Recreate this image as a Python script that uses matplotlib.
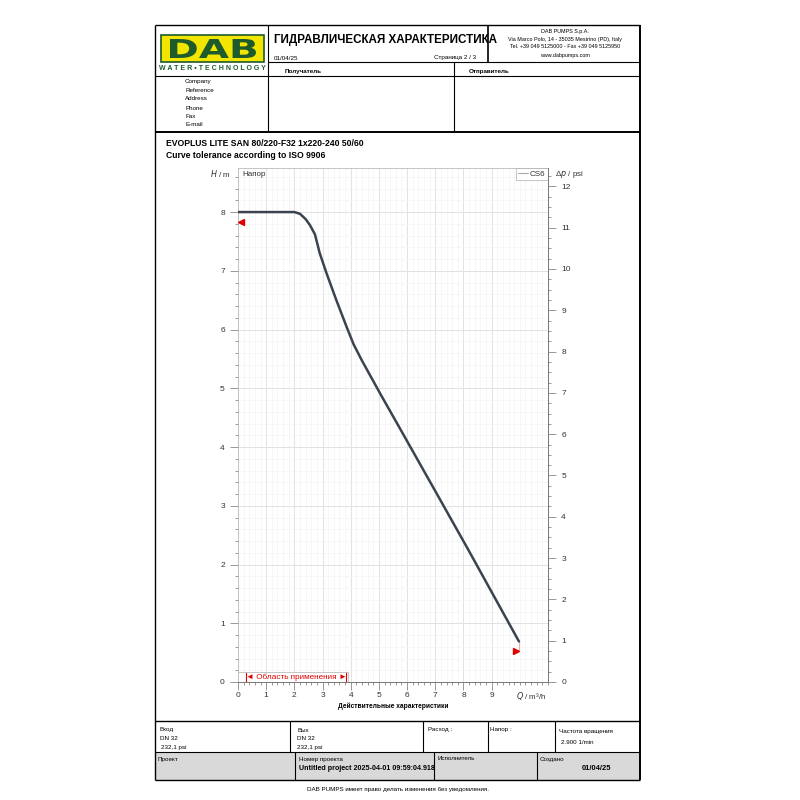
import matplotlib
matplotlib.use("Agg")
import matplotlib.pyplot as plt
from matplotlib.patches import Rectangle, PathPatch
from matplotlib.textpath import TextPath
from matplotlib.font_manager import FontProperties
from matplotlib.transforms import Affine2D
from matplotlib.ticker import MultipleLocator

plt.rcParams['font.family'] = ['Liberation Sans', 'DejaVu Sans']

# ---- data ----
flow_q = [0, 1.0, 2.0, 2.2, 2.4, 2.55, 2.73, 2.9, 3.14, 3.49, 3.85, 4.1, 4.4,
          5.08, 5.73, 7.0, 8.15, 9.97]
head_h = [8.0, 8.0, 8.0, 7.97, 7.88, 7.78, 7.62, 7.3, 6.96, 6.5, 6.05, 5.75, 5.47,
          4.88, 4.33, 3.25, 2.27, 0.69]
series_name = "CS6"
x_ticks = [0, 1, 2, 3, 4, 5, 6, 7, 8, 9]
h_ticks = [0, 1, 2, 3, 4, 5, 6, 7, 8]
psi_ticks = [0, 1, 2, 3, 4, 5, 6, 7, 8, 9, 10, 11, 12]
tol_left = (0.1, 7.83)
tol_right = (9.85, 0.52)
range_q = (0.3, 3.82)
M_PER_PSI = 0.70307

fig = plt.figure(figsize=(8, 8), dpi=100)

# page layer in pixel coords
pg = fig.add_axes([0, 0, 1, 1], zorder=0)
pg.set_xlim(0, 800)
pg.set_ylim(800, 0)
pg.axis('off')

K = 'black'
def L(x0, y0, x1, y1, lw=0.8, c=K):
    pg.plot([x0, x1], [y0, y1], color=c, lw=lw, solid_capstyle='butt')

# gray bottom row fill
pg.add_patch(Rectangle((155, 752), 485, 28, facecolor='#d9d9d9', edgecolor='none'))

# outer frame
L(155, 25, 640, 25, 1.0); L(155, 780, 640, 780, 1.0)
L(155, 25, 155, 780, 1.0); L(640, 25, 640, 780, 1.4)
# header lines
L(268, 25, 268, 132)
L(488, 25, 488, 62, 1.2)
L(268, 62, 640, 62)
L(155, 75.5, 640, 75.5)
L(454, 62, 454, 132)
L(155, 132, 640, 132, 1.4)
# bottom blocks
L(155, 721, 640, 721, 1.0)
L(155, 752, 640, 752)
for xv in [290, 423, 488, 555]:
    L(xv, 721, xv, 752)
for xv in [295, 434, 537]:
    L(xv, 752, xv, 780)

# logo
pg.add_patch(Rectangle((161, 35), 103, 27, facecolor='#f2e600', edgecolor='#1d5a2c', lw=1.2))
tp = TextPath((0, 0), "DAB", prop=FontProperties(family='DejaVu Sans', weight='bold'))
ext = tp.get_extents()
sx = 86 / ext.width
sy = 19 / ext.height
tr = Affine2D().translate(-ext.x0, -ext.y0).scale(sx, -sy).translate(170, 58) + pg.transData
pg.add_patch(PathPatch(tp, facecolor='#1d5a2c', edgecolor='none', transform=tr))
pg.text(212.5, 68.5, "W A T E R • T E C H N O L O G Y", ha='center', va='center',
        fontsize=5.0, color='#1d5a2c', weight='bold')

pg.text(274, 40, "ГИДРАВЛИЧЕСКАЯ ХАРАКТЕРИСТИКА", ha='left', va='center',
        fontsize=8.4, weight='bold')
pg.text(274, 58, "01/04/25", fontsize=4.5, va='center')
pg.text(476, 58, "Страница 2 / 3", fontsize=4.5, va='center', ha='right')
for yy, t in zip([31, 39, 47, 55], ["DAB PUMPS S.p.A.",
                                     "Via Marco Polo, 14 - 35035 Mestrino (PD), Italy",
                                     "Tel. +39 049 5125000 - Fax +39 049 5125950",
                                     "www.dabpumps.com"]):
    pg.text(565, yy, t, fontsize=3.9, ha='center', va='center')
pg.text(285, 71, "Получатель", fontsize=4.5, weight='bold', va='center')
pg.text(469, 71, "Отправитель", fontsize=4.5, weight='bold', va='center')
for yy, t in zip([82, 90.5, 99, 108, 116, 124],
                 ["Company", "Reference", "Address", "Phone", "Fax", "E-mail"]):
    pg.text(185, yy, t, fontsize=4.5, va='center')

pg.text(166, 143, "EVOPLUS LITE SAN 80/220-F32 1x220-240 50/60", fontsize=6.2,
        weight='bold', va='center')
pg.text(166, 155, "Curve tolerance according to ISO 9906", fontsize=6.2,
        weight='bold', va='center')

# bottom texts
fs = 4.5
pg.text(159, 730, "Вход", fontsize=fs, va='center')
pg.text(160, 739, "DN 32", fontsize=fs, va='center')
pg.text(161, 748, "232,1 psi", fontsize=fs, va='center')
pg.text(297, 730, "Вых", fontsize=fs, va='center')
pg.text(297, 739, "DN 32", fontsize=fs, va='center')
pg.text(297, 748, "232,1 psi", fontsize=fs, va='center')
pg.text(428, 730, "Расход :", fontsize=fs, va='center')
pg.text(490, 730, "Напор :", fontsize=fs, va='center')
pg.text(559, 731, "Частота вращения", fontsize=fs, va='center')
pg.text(561, 743, "2.900 1/min", fontsize=fs, va='center')
pg.text(158, 759, "Проект", fontsize=fs, va='center')
pg.text(299, 759, "Номер проекта", fontsize=fs, va='center')
pg.text(299, 769, "Untitled project 2025-04-01 09:59:04.918", fontsize=5.1,
        weight='bold', va='center')
pg.text(437, 759, "Исполнитель", fontsize=fs, va='center')
pg.text(540, 759, "Создано", fontsize=fs, va='center')
pg.text(596, 769, "01/04/25", fontsize=5.4, weight='bold', va='center', ha='center')
pg.text(398, 789, "DAB PUMPS имеет право делать изменения без уведомления.",
        fontsize=4.5, ha='center', va='center')

# axis captions in page coords
pg.text(231, 173.5, "$H$ / m", fontsize=5.8, ha='right', va='center', color='#333333')
pg.text(555, 174, "Δ$p$ / psi", fontsize=5.8, ha='left', va='center', color='#333333')
pg.text(393, 706, "Действительные характеристики", fontsize=4.8, weight='bold',
        ha='center', va='center')

# ---- chart ----
ax = fig.add_axes([238 / 800, 1 - 682 / 800, 310 / 800, 514 / 800], zorder=2)
ymax = 8.75
ax.set_xlim(0, 11)
ax.set_ylim(0, ymax)
ax.set_xticks(x_ticks)
ax.set_yticks(h_ticks)
ax.xaxis.set_minor_locator(MultipleLocator(0.2))
ax.yaxis.set_minor_locator(MultipleLocator(0.2))
ax.grid(which='major', color='#e2e2e2', lw=0.7)
ax.grid(which='minor', color='#f4f4f4', lw=0.5)
ax.set_axisbelow(True)
ax.tick_params(which='both', direction='out', colors='#888888', labelcolor='#333333',
               labelsize=6, width=0.6)
ax.tick_params(which='major', length=6)
ax.tick_params(which='minor', length=2.5)
ax.tick_params(axis='x', pad=1.5)
for s in ['top', 'right', 'left']:
    ax.spines[s].set_color('#bbbbbb')
    ax.spines[s].set_linewidth(0.6)
ax.spines['bottom'].set_color('#777777'); ax.spines['bottom'].set_linewidth(0.7)

ax.text(10.4, -0.14, "$Q$ / m³/h", fontsize=5.8, ha='center', va='top', color='#333333')

ax.plot(flow_q, head_h, color='#3a4350', lw=1.8, label=series_name, zorder=5,
        solid_capstyle='round')
# tolerance markers
ax.plot([flow_q[-1], flow_q[-1]], [head_h[-1], tol_right[1]], color='#ff9a9a', lw=0.6)
ax.plot(*tol_left, marker='<', color='#e00000', ms=5, zorder=6)
ax.plot(*tol_right, marker='>', color='#e00000', ms=5, zorder=6)

# application range
ax.add_patch(Rectangle((0, 0), 3.9, 0.17, facecolor='white', edgecolor='#bbbbbb',
                       lw=0.6, zorder=4))
for q in range_q:
    ax.plot([q, q], [0.005, 0.15], color='#e00000', lw=0.8, zorder=5)
ax.text(sum(range_q) / 2, 0.085, "◄ Область применения ►", color='#e00000', fontsize=5.9,
        ha='center', va='center', zorder=6)

ax.text(0.015, 0.995, "Напор", transform=ax.transAxes, fontsize=5.8, va='top', ha='left',
        color='#333333')
leg = ax.legend(loc='upper right', fontsize=5.8, frameon=True, fancybox=False,
                edgecolor='#aaaaaa', borderpad=0.25, handlelength=1.2, handletextpad=0.3,
                borderaxespad=0.05)
leg.get_frame().set_linewidth(0.6)
for ln in leg.get_lines():
    ln.set_color('#aaaaaa'); ln.set_linewidth(0.8)
for t in leg.get_texts():
    t.set_color('#333333')

# right psi axis
ax2 = ax.twinx()
ax2.set_ylim(0, ymax / M_PER_PSI)
ax2.set_yticks(psi_ticks)
ax2.yaxis.set_minor_locator(MultipleLocator(0.25))
ax2.tick_params(which='both', direction='out', colors='#888888', labelcolor='#333333',
                labelsize=6, width=0.6)
ax2.tick_params(which='major', length=6)
ax2.tick_params(which='minor', length=2.5)
ax2.spines['right'].set_color('#777777'); ax2.spines['right'].set_linewidth(0.7)
for s in ['top', 'left', 'bottom']:
    ax2.spines[s].set_visible(False)

fig.savefig("out.png", dpi=100, facecolor='white')
